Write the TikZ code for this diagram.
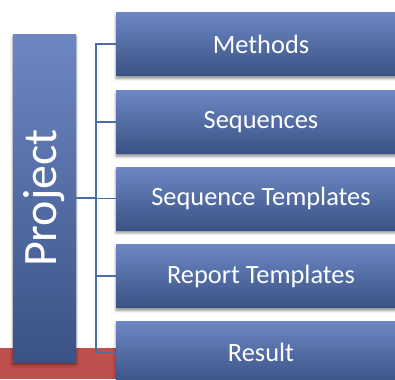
\documentclass[tikz,border=0pt]{standalone}
\usepackage{fontspec}
\setmainfont{Carlito}
\usetikzlibrary{positioning,shadows.blur}
\definecolor{boxtop}{RGB}{108,135,195}
\definecolor{boxbottom}{RGB}{58,82,133}
\definecolor{linkblue}{RGB}{74,111,165}
\definecolor{bandred}{RGB}{192,80,77}

\begin{document}
\begin{tikzpicture}[
    x=0.75pt, y=-0.75pt,
    itembox/.style={rectangle, minimum width=217.5pt, minimum height=47.25pt, inner sep=0pt,
        top color=boxtop, bottom color=boxbottom, text=white,
        font=\fontsize{19.8}{24}\selectfont,
        blur shadow={shadow xshift=0pt, shadow yshift=-2.2pt, shadow blur steps=5, shadow opacity=45}},
    rootbox/.style={itembox, minimum width=47.25pt, minimum height=246pt,
        font=\fontsize{36}{40}\selectfont},
    link/.style={draw=linkblue, line width=1.1pt}
]
\clip (0,0) rectangle (395,379);

% Red band
\fill[bandred] (0,348) rectangle (118,379);

% Trunk of the tree
\coordinate (trunk) at (96,198);

% Items
\node[itembox] (methods)   at (261,44)    {Methods};
\node[itembox] (sequences) at (261,122)   {Sequences};
\node[itembox] (seqtmpl)   at (261,198.5) {Sequence Templates};
\node[itembox] (reptmpl)   at (261,276)   {Report Templates};
\node[itembox] (result)    at (261,352.5) {Result};

% Root
\node[rootbox] (project) at (44.5,198) {\rotatebox{90}{Project}};

% Branches
\draw[link] (project.east) -- (trunk);
\draw[link] (trunk) |- (methods.west);
\draw[link] (trunk) |- (sequences.west);
\draw[link] (trunk) |- (seqtmpl.west);
\draw[link] (trunk) |- (reptmpl.west);
\draw[link] (trunk) |- (result.west);

\end{tikzpicture}
\end{document}
